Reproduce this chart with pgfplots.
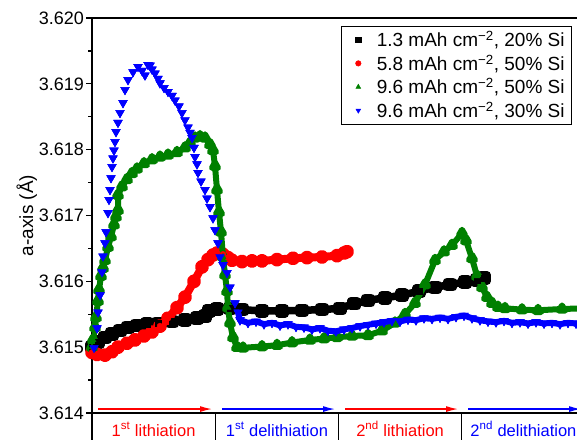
\documentclass[border=0pt]{standalone}
\usepackage{pgfplots}
\pgfplotsset{compat=1.18}
\usepackage{pgfplotstable}
\usepackage{fontspec}
\setmainfont{Liberation Sans}
\usetikzlibrary{arrows.meta}
\definecolor{ored}{RGB}{255,0,0}
\definecolor{ogreen}{RGB}{0,128,0}
\definecolor{oblue}{RGB}{0,0,255}

\pgfplotstableread{
x y
0 3.61500
6 3.61508
13 3.61515
20 3.61520
28 3.61525
36 3.61530
45 3.61533
55 3.61535
66 3.61536
80 3.61539
93 3.61541
105 3.61544
113 3.61547
117 3.61555
125 3.61558
138 3.61559
150 3.61557
170 3.61555
190 3.61555
210 3.61556
230 3.61557
248 3.61559
262 3.61566
276 3.61571
293 3.61575
310 3.61579
327 3.61585
343 3.61591
358 3.61595
373 3.61599
385 3.61602
392 3.61605
}\blackdata

\pgfplotstableread{
x y
0 3.61492
5 3.61489
13 3.61488
20 3.61493
26 3.61500
35 3.61506
43 3.61511
52 3.61517
60 3.61523
68 3.61532
76 3.61544
85 3.61560
93 3.61576
102 3.61600
110 3.61622
116 3.61633
121 3.61640
125 3.61643
131 3.61641
136 3.61636
140 3.61632
150 3.61630
160 3.61631
170 3.61631
185 3.61633
201 3.61635
215 3.61636
230 3.61637
245 3.61639
252 3.61643
255 3.61645
}\reddata

\pgfplotstableread{
x y
0 3.61500
1 3.61511
3 3.61530
4 3.61545
6 3.61570
7 3.61587
9 3.61608
11 3.61620
13 3.61632
16 3.61652
19 3.61668
22 3.61686
24 3.61698
26 3.61708
26 3.61731
30 3.61744
35 3.61755
40 3.61764
45 3.61771
52 3.61779
60 3.61785
68 3.61789
76 3.61792
85 3.61796
93 3.61803
98 3.61810
103 3.61818
108 3.61820
113 3.61818
118 3.61808
121 3.61799
123 3.61775
125 3.61739
127 3.61705
129 3.61675
131 3.61637
133 3.61610
135 3.61585
136 3.61560
138 3.61537
141 3.61515
145 3.61500
151 3.61499
170 3.61501
185 3.61503
200 3.61507
218 3.61511
232 3.61513
245 3.61515
260 3.61517
276 3.61518
290 3.61525
303 3.61537
313 3.61550
323 3.61567
333 3.61595
343 3.61632
352 3.61645
360 3.61655
370 3.61673
374 3.61662
380 3.61635
385 3.61608
390 3.61591
395 3.61576
400 3.61567
406 3.61561
413 3.61559
430 3.61557
446 3.61556
470 3.61558
493 3.61559
}\greendata

\pgfplotstableread{
x y
2 3.61499
5 3.61529
6 3.61553
8 3.61579
10 3.61614
11 3.61638
13 3.61658
14 3.61675
16 3.61704
17 3.61724
18 3.61739
19 3.61757
20 3.61774
21 3.61787
22 3.61799
23 3.61812
24 3.61827
26 3.61841
28 3.61856
31 3.61871
33 3.61891
36 3.61906
41 3.61918
46 3.61926
50 3.61920
53 3.61913
56 3.61929
58 3.61928
60 3.61922
63 3.61916
66 3.61908
68 3.61901
72 3.61894
76 3.61888
80 3.61882
83 3.61875
87 3.61866
90 3.61856
93 3.61845
96 3.61834
98 3.61826
100 3.61818
102 3.61803
103 3.61789
105 3.61778
106 3.61765
109 3.61752
113 3.61739
115 3.61726
118 3.61713
121 3.61696
123 3.61678
126 3.61658
128 3.61637
131 3.61625
135 3.61613
138 3.61591
143 3.61567
146 3.61553
148 3.61541
156 3.61537
164 3.61539
172 3.61535
180 3.61537
188 3.61533
196 3.61535
204 3.61531
212 3.61530
220 3.61527
228 3.61529
236 3.61525
244 3.61524
252 3.61527
260 3.61529
268 3.61532
276 3.61534
284 3.61536
292 3.61538
300 3.61540
308 3.61539
316 3.61542
324 3.61541
332 3.61544
340 3.61543
348 3.61545
356 3.61543
364 3.61546
372 3.61548
380 3.61544
388 3.61541
396 3.61539
404 3.61538
412 3.61540
420 3.61537
428 3.61538
436 3.61536
444 3.61538
452 3.61536
460 3.61537
468 3.61535
476 3.61537
484 3.61536
492 3.61537
}\bluedata

\begin{document}
\begin{tikzpicture}
\begin{axis}[
  at={(92pt,26pt)}, anchor=south west,
  scale only axis, width=493pt, height=395pt,
  xmin=0, xmax=493, ymin=3.614, ymax=3.620,
  xtick=\empty,
  ytick={3.614,3.615,3.616,3.617,3.618,3.619,3.620},
  minor y tick num=1,
  ytick pos=left,
  tick align=outside,
  major tick length=6pt, minor tick length=4pt,
  every tick/.style={black, line width=1.2pt},
  axis line style={line width=1.2pt},
  clip mode=individual,
  font=\fontsize{18}{21}\selectfont,
  yticklabel style={/pgf/number format/fixed, /pgf/number format/fixed zerofill, /pgf/number format/precision=3, /pgf/number format/assume math mode=true, inner xsep=2pt, font=\fontsize{18}{21}\selectfont},
  ylabel={a-axis (Å)},
  ylabel style={at={(axis description cs:-0.132,0.5)}, anchor=center, font=\fontsize{19}{22}\selectfont},
  legend style={at={(0.505,0.98)}, anchor=north west, draw=black, line width=0.8pt,
    font=\fontsize{19}{23}\selectfont, row sep=2.5pt, inner xsep=5pt, inner ysep=3pt,
    cells={anchor=west}},
  legend image code/.code={\path[draw=none, fill=none] (0cm,0cm) -- (1.0cm,0cm); \draw[mark size=2.8pt, line width=0.4pt] plot coordinates {(0.42cm,0cm)};},
]
\addplot[black, line width=7.5pt, line join=round, line cap=round, mark=square*, mark size=3pt, forget plot] table {\blackdata};
\addplot[ored, line width=8pt, line join=round, line cap=round, mark=*, mark size=3pt, forget plot] table {\reddata};
\addplot[ogreen, line width=6pt, line join=round, line cap=round, mark=triangle*, mark size=3.5pt, forget plot] table {\greendata};
\addplot[oblue, line width=6pt, line join=round, forget plot, restrict x to domain=146:500] table {\bluedata};
\addplot[only marks, oblue, mark=triangle*, mark size=5pt, mark options={rotate=180}, forget plot] table {\bluedata};

\addplot[only marks, black, mark=square*, mark size=3pt] table {\blackdata};
\addlegendentry{1.3 mAh cm\textsuperscript{−2}, 20\% Si}
\addplot[only marks, ored, mark=*, mark size=3pt] table {\reddata};
\addlegendentry{5.8 mAh cm\textsuperscript{−2}, 50\% Si}
\addplot[only marks, ogreen, mark=triangle*, mark size=3.5pt] table {\greendata};
\addlegendentry{9.6 mAh cm\textsuperscript{−2}, 50\% Si}
\addplot[only marks, oblue, mark=triangle*, mark size=5pt, mark options={rotate=180}] table {\bluedata};
\addlegendentry{9.6 mAh cm\textsuperscript{−2}, 30\% Si}

% stage arrows
\draw[ored, line width=1.3pt, -{Latex[length=12pt,width=6pt]}] (axis cs:6,3.61406) -- (axis cs:120,3.61406);
\draw[oblue, line width=1.3pt, -{Latex[length=12pt,width=6pt]}] (axis cs:130,3.61406) -- (axis cs:243,3.61406);
\draw[ored, line width=1.3pt, -{Latex[length=12pt,width=6pt]}] (axis cs:253,3.61406) -- (axis cs:366,3.61406);
\draw[oblue, line width=1.3pt, -{Latex[length=12pt,width=6pt]}] (axis cs:376,3.61406) -- (axis cs:489,3.61406);
% stage boxes
\draw[black, line width=1.2pt] (axis cs:0,3.614) -- ++(0pt,-40pt);
\draw[black, line width=1.2pt] (axis cs:123.25,3.614) -- ++(0pt,-40pt);
\draw[black, line width=1.2pt] (axis cs:246.5,3.614) -- ++(0pt,-40pt);
\draw[black, line width=1.2pt] (axis cs:369.75,3.614) -- ++(0pt,-40pt);
\draw[black, line width=1.2pt] (axis cs:493,3.614) -- ++(0pt,-40pt);
\node[anchor=base, inner sep=0pt, text=ored, yshift=-23pt, font=\fontsize{16.5}{19}\selectfont] at (axis cs:61.6,3.614) {1\textsuperscript{st} lithiation};
\node[anchor=base, inner sep=0pt, text=oblue, yshift=-23pt, font=\fontsize{16.5}{19}\selectfont] at (axis cs:184.9,3.614) {1\textsuperscript{st} delithiation};
\node[anchor=base, inner sep=0pt, text=ored, yshift=-23pt, font=\fontsize{16.5}{19}\selectfont] at (axis cs:308.1,3.614) {2\textsuperscript{nd} lithiation};
\node[anchor=base, inner sep=0pt, text=oblue, yshift=-23pt, font=\fontsize{16.5}{19}\selectfont] at (axis cs:431.4,3.614) {2\textsuperscript{nd} delithiation};
\end{axis}
\pgfresetboundingbox
\useasboundingbox (0,0) rectangle (577pt,439pt);
\end{tikzpicture}
\end{document}
